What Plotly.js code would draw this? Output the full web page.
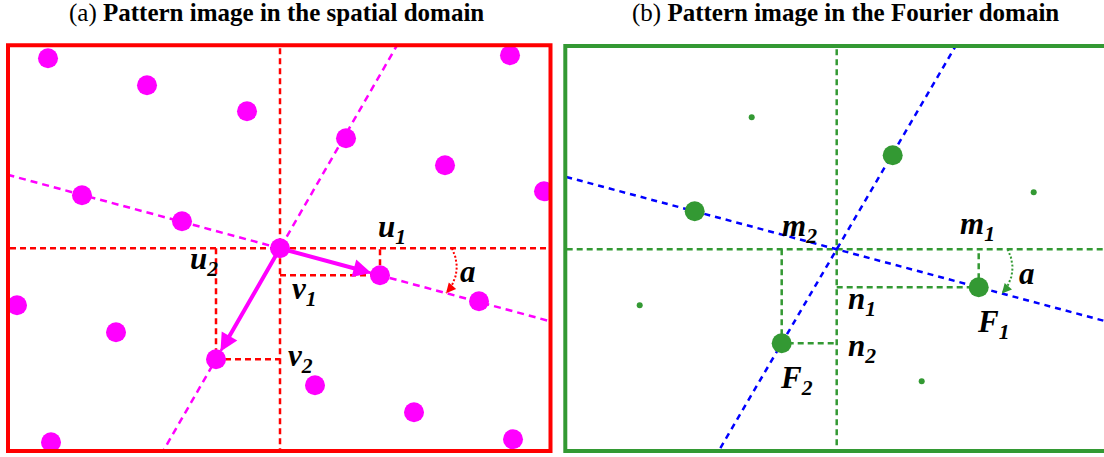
<!DOCTYPE html>
<html><head><meta charset="utf-8">
<script src="https://cdn.plot.ly/plotly-3.0.1.min.js"></script>
<style>html,body{margin:0;padding:0;background:#fff}#chart{width:1104px;height:457px}</style>
</head><body><div id="chart"></div>
<script>
// ---------- DATA (pixel units relative to each panel's origin, y pointing down) ----------
// (a) spatial-domain pattern dots
const spatialX = [-232,-133,-33,230,66,165,264,-198,-98,0,100,199,-263,-164,-64,35,134,233,-229];
const spatialY = [-190,-163,-137,-193,-110,-83,-57,-53,-27,0,27,53,57,84,111,137,164,191,194];
// lattice basis vectors (u1,v1) and (u2,v2)
const vec1 = [100, 27];
const vec2 = [-64, 111];
// (b) Fourier-domain peaks: main peaks and weak harmonics
const peakX = [142, -55, -142, 56];
const peakY = [38, 94, -38, -94];
const harmX = [-85, 197, -197, 85];
const harmY = [-132, -57, 56, 132];
const F1 = [142, 38];
const F2 = [-55, 94];
// text
const titleA = '(a) <b>Pattern image in the spatial domain</b>';
const titleB = '(b) <b>Pattern image in the Fourier domain</b>';
const symA = ['u', 'v', 'u', 'v'];
const subA = ['1', '1', '2', '2'];
const symB = ['m', 'n', 'm', 'n', 'F', 'F'];
const subB = ['1', '1', '2', '2', '1', '2'];
const angleLabel = 'a';

// ---------- STYLE / LAYOUT ----------
const W = 1104, H = 457;
const RED = '#ff0000', MAG = '#ff00ff', GREEN = '#339933', BLUE = '#0000ff';

function axisLine(v, color, dash, w, xa, ya) {
  const k = 4;
  return {x: [-k * v[0], k * v[0]], y: [-k * v[1], k * v[1]], mode: 'lines', xaxis: xa, yaxis: ya,
          line: {color: color, width: w, dash: dash}, hoverinfo: 'skip'};
}
function cross(color, xa, ya) {
  return {x: [-600, 600, null, 0, 0], y: [0, 0, null, -600, 600], mode: 'lines', xaxis: xa, yaxis: ya,
          line: {color: color, width: 2.5, dash: '6px,4px'}, hoverinfo: 'skip'};
}
function proj(a, b, color, xa, ya) {
  return {x: [0, a[0], a[0], null, b[0], b[0], 0], y: [a[1], a[1], 0, null, 0, b[1], b[1]],
          mode: 'lines', xaxis: xa, yaxis: ya, line: {color: color, width: 2.5, dash: '6px,4px'}, hoverinfo: 'skip'};
}
// curved angle marker between the horizontal axis and the basis direction
function arcGeom(vec, r, bulge) {
  const th = Math.atan2(vec[1], vec[0]);
  const p0 = [r, 0], p2 = [r * Math.cos(th), r * Math.sin(th)];
  const m = [(p0[0] + p2[0]) / 2, (p0[1] + p2[1]) / 2];
  const d = [p2[0] - p0[0], p2[1] - p0[1]], L = Math.hypot(d[0], d[1]);
  const nrm = [d[1] / L, -d[0] / L];
  const p1 = [m[0] + bulge * nrm[0], m[1] + bulge * nrm[1]];
  return {p0, p1, p2};
}
function arc(vec, r, color, xa, ya) {
  const g = arcGeom(vec, r, 15);
  const xs = [], ys = [];
  for (let i = 0; i <= 30; i++) {
    const t = i / 30, a = (1 - t) * (1 - t), b = 2 * t * (1 - t), c = t * t;
    xs.push(a * g.p0[0] + b * g.p1[0] + c * g.p2[0]);
    ys.push(a * g.p0[1] + b * g.p1[1] + c * g.p2[1]);
  }
  return {x: xs, y: ys, mode: 'lines', xaxis: xa, yaxis: ya, line: {color: color, width: 2, dash: '2px,2px'}, hoverinfo: 'skip'};
}
function arcHead(vec, r, color, xr, yr) {
  const g = arcGeom(vec, r, 15);
  const d = [g.p2[0] - g.p1[0], g.p2[1] - g.p1[1]], L = Math.hypot(d[0], d[1]);
  return {xref: xr, yref: yr, x: g.p2[0], y: g.p2[1], text: '', showarrow: true,
          ax: -7 * d[0] / L, ay: -7 * d[1] / L, arrowhead: 2, arrowsize: 1.3, arrowwidth: 1.5, arrowcolor: color};
}

const traces = [
  cross(RED, 'x', 'y'),
  axisLine(vec1, MAG, '7px,5px', 2.5, 'x', 'y'),
  axisLine(vec2, MAG, '7px,5px', 2.5, 'x', 'y'),
  proj(vec1, vec2, RED, 'x', 'y'),
  arc(vec1, 172, RED, 'x', 'y'),
  {x: spatialX, y: spatialY, mode: 'markers', xaxis: 'x', yaxis: 'y', marker: {color: MAG, size: 20}, hoverinfo: 'skip'},

  cross(GREEN, 'x2', 'y2'),
  axisLine(F1, BLUE, '6px,5px', 2.5, 'x2', 'y2'),
  axisLine(F2, BLUE, '6px,5px', 2.5, 'x2', 'y2'),
  proj(F1, F2, GREEN, 'x2', 'y2'),
  arc(F1, 171, GREEN, 'x2', 'y2'),
  {x: peakX, y: peakY, mode: 'markers', xaxis: 'x2', yaxis: 'y2', marker: {color: GREEN, size: 20}, hoverinfo: 'skip'},
  {x: harmX, y: harmY, mode: 'markers', xaxis: 'x2', yaxis: 'y2', marker: {color: GREEN, size: 6}, hoverinfo: 'skip'}
];

const symFont = {family: 'Liberation Serif', size: 31, color: '#000'};
function txt(xr, yr, x, y, t) {
  return {xref: xr, yref: yr, x: x, y: y, text: '<b><i>' + t + '</i></b>', showarrow: false, font: symFont,
          xanchor: 'center', yanchor: 'middle', borderpad: 0};
}
function vecArrow(v) {
  return {xref: 'x', yref: 'y', axref: 'x', ayref: 'y', x: v[0], y: v[1], ax: 0, ay: 0, text: '', showarrow: true,
          arrowhead: 2, arrowsize: 0.9, arrowwidth: 4, arrowcolor: MAG, standoff: 9};
}
const titleFont = {family: 'Liberation Serif', size: 25, color: '#000'};

// label box centres
const posA = [[112, -19], [24, 43], [-76, 13], [20, 110]];
const posB = [[141, -23], [25, 52], [-37, -21], [25, 99], [157, 75], [-40, 131]];

const annotations = [
  {xref: 'paper', yref: 'paper', x: 276 / W, y: 1 - 13 / H, text: titleA, showarrow: false, font: titleFont, xanchor: 'center', yanchor: 'middle'},
  {xref: 'paper', yref: 'paper', x: 845 / W, y: 1 - 13 / H, text: titleB, showarrow: false, font: titleFont, xanchor: 'center', yanchor: 'middle'},
  vecArrow(vec1), vecArrow(vec2),
  arcHead(vec1, 172, RED, 'x', 'y'),
  arcHead(F1, 171, GREEN, 'x2', 'y2'),
  txt('x', 'y', 188, 23, angleLabel),
  txt('x2', 'y2', 190, 24, angleLabel)
];
symA.forEach((s, i) => annotations.push(txt('x', 'y', posA[i][0], posA[i][1], s + '<sub>' + subA[i] + '</sub>')));
symB.forEach((s, i) => annotations.push(txt('x2', 'y2', posB[i][0], posB[i][1], s + '<sub>' + subB[i] + '</sub>')));

const shapes = [
  {type: 'rect', xref: 'paper', yref: 'paper', x0: 8 / W, x1: 550.5 / W, y0: 6 / H, y1: 1 - 45.3 / H, line: {color: RED, width: 4}},
  {type: 'rect', xref: 'paper', yref: 'paper', x0: 565.3 / W, x1: 1108 / W, y0: 6 / H, y1: 1 - 46 / H, line: {color: GREEN, width: 4}}
];

const hidden = {visible: false, fixedrange: true};
const layout = {
  width: W, height: H, margin: {l: 0, r: 0, t: 0, b: 0},
  paper_bgcolor: '#fff', plot_bgcolor: 'rgba(0,0,0,0)', showlegend: false, hovermode: false,
  xaxis: Object.assign({domain: [8 / W, 550.5 / W], range: [-272, 270.5], anchor: 'y'}, hidden),
  yaxis: Object.assign({domain: [6 / H, 1 - 45.3 / H], range: [202.7, -203], anchor: 'x'}, hidden),
  xaxis2: Object.assign({domain: [565.3 / W, 1], range: [-271.4, 267.3], anchor: 'y2'}, hidden),
  yaxis2: Object.assign({domain: [6 / H, 1 - 46 / H], range: [201.7, -203.3], anchor: 'x2'}, hidden),
  annotations: annotations, shapes: shapes
};
Plotly.newPlot('chart', traces, layout, {staticPlot: true, displayModeBar: false});
</script></body></html>
